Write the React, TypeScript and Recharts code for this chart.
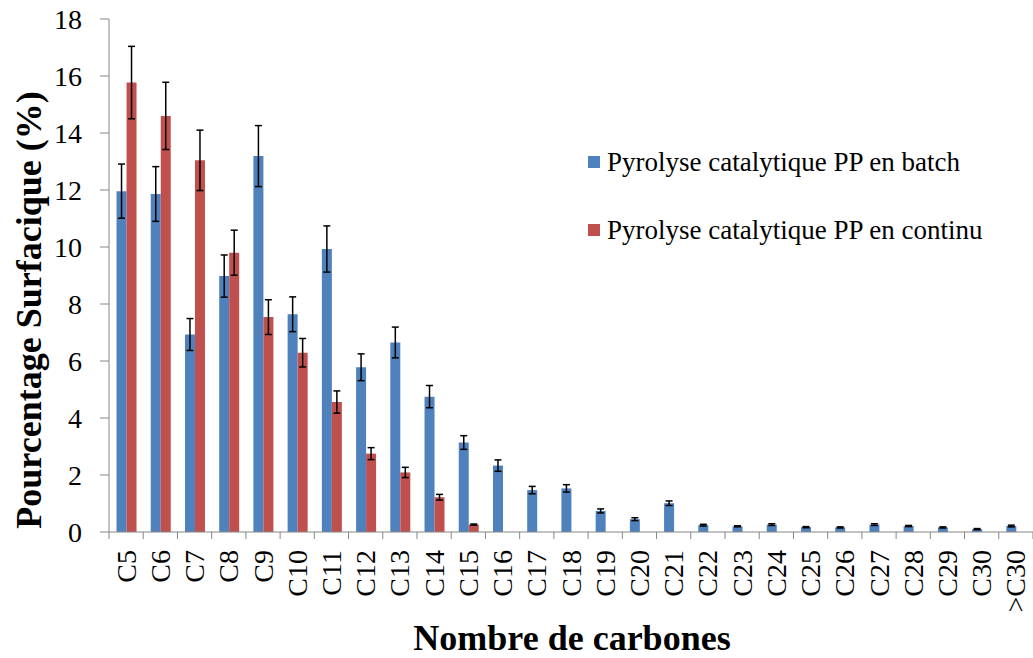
import React from 'react';
import { BarChart, Bar, XAxis, YAxis, ErrorBar, Legend, Label } from 'recharts';

const categories = ['C5','C6','C7','C8','C9','C10','C11','C12','C13','C14','C15','C16','C17','C18','C19','C20','C21','C22','C23','C24','C25','C26','C27','C28','C29','C30','>C30'];
const batch = [11.96, 11.86, 6.93, 8.98, 13.19, 7.64, 9.93, 5.78, 6.65, 4.75, 3.14, 2.33, 1.47, 1.53, 0.74, 0.45, 1.01, 0.24, 0.20, 0.26, 0.17, 0.16, 0.26, 0.21, 0.16, 0.10, 0.21];
const batchErr = [0.95, 0.96, 0.56, 0.74, 1.07, 0.61, 0.81, 0.47, 0.54, 0.39, 0.24, 0.20, 0.13, 0.13, 0.07, 0.05, 0.08, 0.03, 0.02, 0.03, 0.02, 0.02, 0.03, 0.02, 0.02, 0.02, 0.03];
const continu = [15.77, 14.6, 13.04, 9.8, 7.54, 6.29, 4.56, 2.75, 2.09, 1.22, 0.26, null, null, null, null, null, null, null, null, null, null, null, null, null, null, null, null];
const continuErr = [1.27, 1.18, 1.06, 0.79, 0.61, 0.50, 0.39, 0.21, 0.18, 0.10, 0.02, null, null, null, null, null, null, null, null, null, null, null, null, null, null, null, null];
const yTicks = [0, 2, 4, 6, 8, 10, 12, 14, 16, 18];

const seriesNames = ['Pyrolyse catalytique PP en batch', 'Pyrolyse catalytique PP en continu'];

const data = categories.map((c, i) => ({
  cat: c,
  batch: batch[i],
  batchErr: batchErr[i],
  continu: continu[i],
  continuErr: continuErr[i],
}));

const FONT = '"Liberation Serif", "Times New Roman", serif';
const AXIS = '#868686';

const XTick = (props: any) => {
  const { x, y, payload, index } = props;
  const half = payload && payload.offset ? payload.offset : 17;
  const last = index === categories.length - 1;
  return (
    <g>
      <line x1={x - half} y1={y} x2={x - half} y2={y + 7} stroke={AXIS} strokeWidth={1} />
      {last && <line x1={x + half} y1={y} x2={x + half} y2={y + 7} stroke={AXIS} strokeWidth={1} />}
      <text
        x={x}
        y={y + 18}
        transform={`rotate(-90 ${x} ${y + 18})`}
        textAnchor="end"
        dominantBaseline="central"
        fontFamily={FONT}
        fontSize={28}
        fill="#000"
      >
        {payload.value}
      </text>
    </g>
  );
};

const renderLegend = () => {
  const colors = ['#4F81BD', '#C0504D'];
  return (
    <div style={{ fontFamily: FONT }}>
      {seriesNames.map((n, i) => (
        <div key={n} style={{ display: 'flex', alignItems: 'center', height: 34, marginBottom: i === 0 ? 34 : 0 }}>
          <div style={{ width: 12, height: 12, background: colors[i], marginRight: 7 }} />
          <span style={{ fontSize: 27, color: '#000', whiteSpace: 'nowrap' }}>{n}</span>
        </div>
      ))}
    </div>
  );
};

export default function App() {
  return (
    <div style={{ position: 'absolute', left: 0, top: 0, width: 1033, height: 658, background: '#fff' }}>
      <BarChart
        width={1033}
        height={658}
        data={data}
        margin={{ top: 19, right: 0, bottom: 0, left: 0 }}
        barCategoryGap="22%"
        barGap={0}
      >
        <XAxis
          dataKey="cat"
          interval={0}
          height={126}
          tickLine={false}
          tickSize={0}
          tickMargin={0}
          axisLine={{ stroke: AXIS, strokeWidth: 1 }}
          tick={<XTick />}
        >
          <Label
            content={() => (
              <text x={572} y={650} textAnchor="middle" fontFamily={FONT} fontWeight="bold" fontSize={36} fill="#000">
                Nombre de carbones
              </text>
            )}
          />
        </XAxis>
        <YAxis
          width={109}
          domain={[0, 18]}
          ticks={yTicks}
          interval={0}
          tickSize={9}
          tickMargin={18}
          axisLine={{ stroke: AXIS, strokeWidth: 1 }}
          tickLine={{ stroke: AXIS, strokeWidth: 1 }}
          tick={{ fontFamily: FONT, fontSize: 28, fill: '#000' }}
        >
          <Label
            content={() => (
              <text
                x={29}
                y={310}
                transform="rotate(-90 29 310)"
                textAnchor="middle"
                dominantBaseline="central"
                fontFamily={FONT}
                fontWeight="bold"
                fontSize={36}
                fill="#000"
              >
                Pourcentage Surfacique (%)
              </text>
            )}
          />
        </YAxis>
        <Legend
          layout="vertical"
          verticalAlign="middle"
          align="center"
          content={renderLegend}
          wrapperStyle={{ position: 'absolute', left: 588, top: 145, width: 440 }}
        />
        <Bar dataKey="batch" name={seriesNames[0]} fill="#4F81BD" isAnimationActive={false}>
          <ErrorBar dataKey="batchErr" width={3.5} stroke="#000" strokeWidth={1.5} direction="y" />
        </Bar>
        <Bar dataKey="continu" name={seriesNames[1]} fill="#C0504D" isAnimationActive={false}>
          <ErrorBar dataKey="continuErr" width={3.5} stroke="#000" strokeWidth={1.5} direction="y" />
        </Bar>
      </BarChart>
    </div>
  );
}
